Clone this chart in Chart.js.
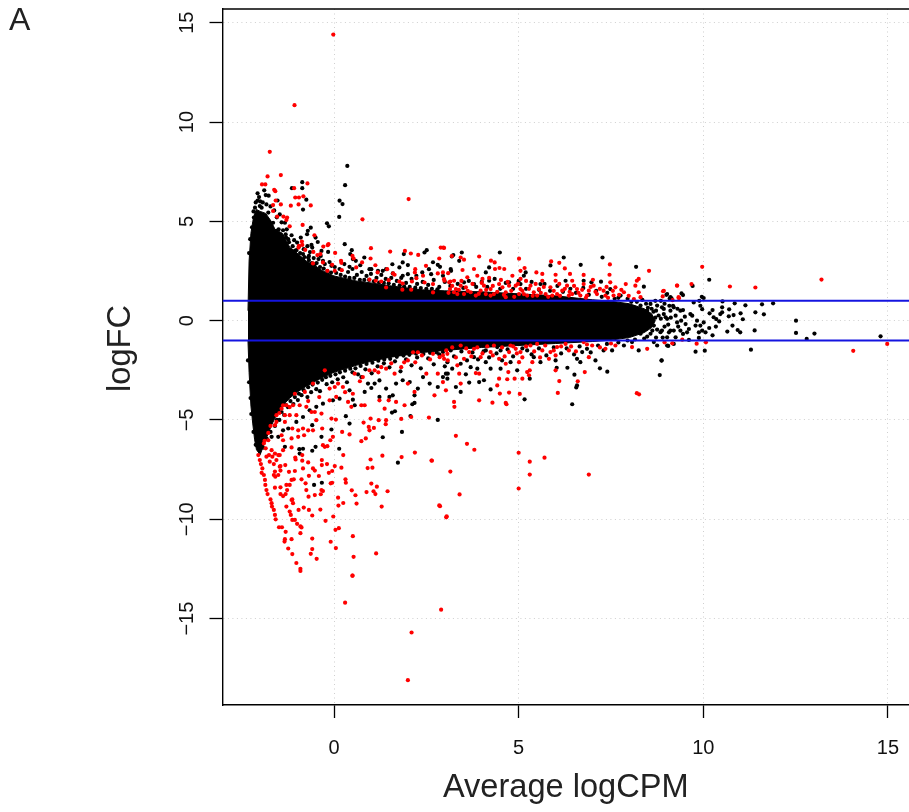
<!DOCTYPE html>
<html>
<head>
<meta charset="utf-8">
<title>MA plot</title>
<script src="https://cdn.jsdelivr.net/npm/chart.js@4.4.0/dist/chart.umd.min.js"></script>
<style>
  html, body { margin: 0; padding: 0; background: #fff; overflow: hidden; }
  canvas { display: block; }
</style>
</head>
<body>
<canvas id="plot" width="909" height="812"></canvas>
<script>
// values, [average logCPM, logFC]
const xTickValues = [0, 5, 10, 15];
const yTickValues = [-15, -10, -5, 0, 5, 10, 15];
const cutoffs = [1, -1];
const xRange = [-3.02, 15.57];

// the solid black mass can't be read dot by dot, so it is read as an envelope
const coreX     = [-2.33, -2.3, -2.25, -2.2, -2.15, -2.1, -2.0, -1.85, -1.7, -1.6, -1.4, -1.2, -1.0, -0.75, -0.5, -0.3, 0, 0.6, 1, 1.5, 2.4, 3, 4, 5, 6, 7, 7.5, 8, 8.4, 8.6, 8.7];
const coreUpper = [0.5, 3.0, 4.4, 5.0, 5.4, 5.6, 5.5, 5.4, 5.0, 4.6, 4.4, 3.7, 3.4, 3.0, 2.75, 2.5, 2.25, 2.0, 1.9, 1.76, 1.55, 1.5, 1.45, 1.35, 1.25, 1.05, 0.98, 0.85, 0.6, 0.35, 0];
const coreLower = [-1.0, -2.6, -4.3, -5.2, -6.0, -6.5, -6.75, -6.0, -5.3, -4.9, -4.3, -3.9, -3.6, -3.3, -3.05, -2.85, -2.6, -2.25, -2.05, -1.85, -1.6, -1.5, -1.35, -1.25, -1.15, -1.05, -0.98, -0.85, -0.6, -0.35, 0];

const blackPoints = [
  [0.36,7.79],[0.3,6.82],[0.15,6.04],[0.23,5.87],[0.14,5.22],[-0.86,6.97],[-0.86,6.67],[-1.14,6.67],[-1.89,6.56],[-1.85,6.32],[-1.77,6.29],
  [-2.07,6.41],[-2.03,6.22],[-2.07,6.05],[-1.53,6.05],[-0.75,6.09],[-0.84,5.59],[-0.19,4.9],[-0.14,4.75],[-0.63,4.68],[-0.71,4.52],[-0.73,4.35],
  [-0.5,4.18],[-0.44,3.96],[-0.9,4.18],[-1.0,3.93],[-0.61,3.81],[-0.59,3.68],[0.29,3.85],[0.48,3.55],[0.44,3.35],[-0.16,3.46],[-0.34,3.51],
  [-0.36,3.26],[-0.68,3.26],[0.82,3.18],[0.59,3.01],[0.51,3.1],[0.71,2.79],[0.42,2.71],[2.45,3.43],[2.51,3.55],[1.89,3.35],[1.86,2.93],[2.0,2.8],
  [2.68,2.94],[2.81,2.81],[2.87,2.71],[1.58,2.84],[1.41,2.59],[1.32,2.51],[1.19,2.51],[0.96,2.59],[1.01,2.59],[2.39,2.43],[2.57,2.59],[1.77,2.68],
  [1.59,2.38],[2.0,2.34],[1.86,2.26],[2.23,2.26],[2.63,2.34],[2.95,2.26],[3.17,2.51],
  [-2.14,5.69],[-2.01,5.77],[-1.83,5.85],[-1.96,5.69],[-2.12,5.22],[-2.01,5.19],[-1.78,5.44],[-1.65,4.93],[-1.47,5.35],[-1.33,4.93],[-1.56,4.52],
  [-1.31,4.35],[-1.24,4.1],[-1.06,3.51],[-0.84,3.35],[-0.7,3.18],[-0.52,2.84],[-0.3,3.01],[-0.07,2.76],[-2.19,4.35],[-2.1,4.38],[-2.17,5.19],
  [4.49,3.43],[6.22,3.18],[7.27,3.18],[8.18,2.71],[6.68,2.81],[5.86,2.78],[3.46,3.43],[3.23,3.3],[3.19,3.23],[3.39,3.01],[4.2,2.68],[4.11,2.43],
  [5.19,2.43],[5.14,2.26],[3.16,2.6],[7.23,1.96],[6.97,1.93],[7.48,1.59],[8.39,1.71],[9.02,1.34],[9.11,1.18],[3.52,1.93],[3.79,1.84],[4.2,2.01],
  [4.74,1.93],[5.05,1.84],[5.59,1.84],[6.27,2.01],[6.76,2.01],[7.76,1.26],
  [6.45,-4.21],[5.16,-3.96],[8.82,-2.74],[8.87,-2.0],[7.4,-2.57],[7.2,-2.4],[7.08,-2.0],[6.51,-2.72],[6.58,-3.26],[6.56,-3.36],[6.32,-2.37],[6.03,-2.37],
  [4.96,-2.5],[5.3,-2.92],[4.51,-2.42],[4.24,-3.46],[4.06,-3.0],[3.93,-3.09],[3.66,-3.12],[3.43,-3.59],[3.3,-3.34],[3.03,-2.67],[3.07,-2.92],[3.2,-2.42],
  [3.57,-2.7],[4.11,-2.09],[4.24,-2.42],[3.88,-2.42],[3.7,-2.34],[4.78,-2.09],[5.41,-1.84],[5.59,-2.09],[6.0,-2.0],[6.58,-1.92],[6.72,-1.58],[6.85,-1.42],
  [6.67,-2.09],[7.85,-1.25],[8.07,-1.08],[7.39,-1.17],[7.53,-1.5],[8.25,-1.5],[8.75,-1.25],[9.02,-1.25],[9.2,-1.17],[8.66,-1.08],[3.43,-2.17],[3.07,-2.09],
  [3.3,-1.33],[3.16,-1.5],[3.79,-1.84],[4.11,-1.5],[4.42,-1.33],[4.51,-1.5],[5.01,-1.17],[5.23,-1.5],
  [-0.54,-8.27],[-0.33,-8.16],[1.73,-7.15],[0.14,-6.45],[-0.94,-6.47],[-0.84,-6.45],[-0.93,-6.69],[-0.59,-6.55],[-0.5,-6.35],[-0.34,-5.85],[-0.07,-5.48],
  [-0.59,-5.26],[2.81,-5.0],[1.84,-5.6],[1.32,-5.87],[2.07,-4.8],[1.57,-4.63],[1.65,-4.56],[0.32,-4.81],[0.42,-5.18],[2.18,-4.14],[2.12,-4.21],
  [0.56,-4.26],[0.51,-3.98],[0.83,-3.59],[1.01,-3.39],[1.1,-3.17],[1.23,-3.01],[1.41,-3.42],[1.59,-3.76],[1.86,-3.0],[2.05,-3.09],[2.18,-3.76],[2.27,-3.42],
  [2.41,-2.84],[2.59,-3.17],[2.81,-3.34],[2.95,-2.84],[3.08,-2.67],[1.68,-3.17],[1.23,-3.84],[1.5,-3.84],[0.74,-2.84],[0.92,-3.17],[0.42,-3.51],[0.15,-3.93],
  [-0.03,-4.01],[-0.3,-4.18],[-0.48,-4.34],[-0.66,-4.51],[-0.84,-4.85],[-1.02,-5.1],[-1.24,-5.43],[-1.38,-5.52],[-1.33,-6.35],[-1.51,-5.85],[-1.69,-5.85],
  [10.16,2.06],[9.71,1.75],[9.41,1.37],[9.45,1.29],[9.0,1.3],[9.09,1.12],[9.14,1.12],[9.96,1.2],[10.01,1.14],[9.74,0.92],[9.89,1.0],[10.52,0.97],[10.85,0.87],
  [11.14,0.77],[11.59,0.82],[11.89,0.87],[11.41,0.42],[11.64,0.32],[11.01,0.37],[11.07,0.07],[10.7,0.57],[10.82,0.28],[10.69,0.22],[10.51,0.67],[10.51,0.42],
  [10.46,0.33],[10.25,0.53],[10.17,0.37],[10.28,0.17],[10.35,0.08],[10.43,-0.04],[10.34,-0.3],[10.25,-0.74],[10.65,-0.55],[10.79,-0.25],[10.93,-0.47],[11.0,-0.59],
  [11.39,-0.49],[12.51,0.0],[12.51,-0.62],[12.8,-0.92],[13.01,-0.65],[14.8,-0.79],[11.29,-1.46],[10.04,-1.51],[9.79,-1.56],[9.05,-1.27],[8.87,-2.01],
  [9.65,0.33],[9.7,0.25],[9.83,0.0],[9.92,0.75],[9.97,0.58],[10.01,-0.09],[9.92,-0.25],[9.79,-0.25],[9.88,-0.59],[9.97,-0.5],[10.06,-0.59],[10.16,-0.37],[9.61,-0.42],
  [9.56,-0.59],[9.52,-0.17],[9.4,0.0],[9.38,0.5],[9.45,0.53],[9.25,0.25],[9.29,-0.09],[9.18,0.75],[9.2,-0.5],[9.38,-0.5],[9.45,-0.67],[9.61,-0.97],[9.88,-0.87],
  [9.25,-0.84],[9.02,-0.84],[9.07,-0.59],[8.88,-0.5],[8.98,0.17],[8.93,0.33],[9.11,0.5],[8.88,0.67],
  [8.12,0.67],[8.3,0.76],[8.48,0.51],[8.39,0.17],[8.21,-0.16],[8.07,-0.5],[8.57,0.84],[8.75,0.76],[8.93,0.59],[8.79,0.26],[8.66,-0.25],[8.84,-0.58],[9.11,-0.5],
  [9.02,0.09],[9.2,0.67],[8.57,-0.66],[8.3,-0.66]
];

// fuzz round the solid mass, estimated from the density in the crops
const blackFringe = [
  [-2.3,3.4],[-2.27,4.1],[-2.22,4.7],[-2.18,5.5],[-2.12,5.95],[-2.0,6.0],[-1.93,5.95],[-1.72,5.75],[-1.62,5.55],[-1.55,5.2],[-1.42,4.95],[-1.28,4.6],[-1.15,4.3],[-1.08,4.05],[-0.95,3.75],
  [-0.82,3.6],[-0.72,3.75],[-0.65,3.45],[-0.55,3.15],[-0.42,3.1],[-0.25,2.85],[-0.12,2.95],[0.02,2.7],[0.15,2.6],[0.28,2.85],[0.38,2.45],[0.5,2.6],[0.62,2.3],[0.75,2.45],[0.88,2.25],[1.0,2.35],[1.15,2.15],
  [1.28,2.3],[1.4,2.1],[1.55,2.15],[1.7,2.0],[1.82,2.15],[1.95,1.9],[2.1,2.1],[2.25,1.85],[2.4,1.95],[2.55,1.8],[2.7,2.05],[2.85,1.7],[3.0,1.95],[3.15,1.75],[3.35,1.85],[3.5,1.65],
  [3.65,2.0],[3.85,1.7],[4.0,1.95],[4.15,1.7],[4.35,2.1],[4.5,1.6],[4.65,1.9],[4.85,1.6],[5.0,2.0],[5.2,1.6],[5.35,1.95],[5.55,1.55],[5.7,1.85],[5.85,1.5],[6.05,1.75],[6.2,1.45],[6.4,1.6],[6.55,1.4],
  [6.75,1.65],[6.9,1.3],[7.1,1.5],[7.25,1.2],[7.4,1.4],[7.6,1.1],[7.7,1.15],[7.95,1.1],[8.05,0.95],[8.2,0.95],[8.35,1.05],[8.5,0.65],[8.65,0.45],[8.15,0.35],[8.3,0.4],[8.45,-0.4],[8.55,-0.15],
  [-2.33,-2.0],[-2.3,-3.1],[-2.26,-3.9],[-2.24,-4.7],[-2.18,-5.6],[-2.12,-6.25],[-1.92,-6.4],[-1.82,-5.95],[-1.72,-5.6],[-1.6,-5.3],[-1.48,-5.0],[-1.35,-4.75],[-1.25,-4.35],[-1.1,-4.2],[-0.98,-4.0],
  [-0.88,-3.75],[-0.72,-3.85],[-0.62,-3.6],[-0.48,-3.45],[-0.38,-3.55],[-0.2,-3.2],[-0.05,-3.1],[0.1,-2.95],[0.25,-2.85],[0.35,-3.1],[0.5,-2.6],[0.65,-2.7],[0.85,-2.45],[1.02,-2.65],[1.18,-2.3],[1.35,-2.15],
  [1.5,-2.35],[1.65,-2.05],[1.8,-2.55],[1.95,-1.95],[2.1,-2.25],[2.25,-1.85],[2.35,-2.4],[2.55,-1.9],[2.7,-2.2],[2.85,-1.7],[3.0,-2.3],[3.25,-1.8],[3.45,-1.55],[3.6,-2.0],[3.75,-1.6],[3.9,-1.95],[4.05,-1.55],
  [4.2,-1.85],[4.4,-1.65],[4.55,-2.0],[4.7,-1.45],[4.85,-1.8],[5.1,-1.4],[5.35,-1.7],[5.55,-1.4],[5.75,-1.75],[5.95,-1.35],[6.15,-1.65],[6.3,-1.4],[6.5,-1.7],[6.65,-1.3],[6.95,-1.6],[7.15,-1.25],[7.3,-1.5],[7.7,-1.1],[7.95,-1.0],[8.15,-0.95],[8.4,-0.9],
  // second pass, right against the envelope
  [-1.5,4.6],[-1.38,4.55],[-1.3,4.2],[-1.22,3.95],[-1.12,3.75],[-1.02,3.55],[-0.92,3.4],[-0.8,3.2],[-0.68,3.05],[-0.6,2.9],[-0.47,2.9],[-0.38,2.7],[-0.28,2.62],[-0.18,2.5],[-0.08,2.42],[0.06,2.4],[0.18,2.3],
  [0.3,2.22],[0.42,2.15],[0.55,2.15],[0.7,2.06],[0.82,2.05],[0.95,2.05],[1.08,1.98],[1.22,1.92],[1.35,1.9],[1.48,1.88],[1.62,1.8],[1.78,1.78],[1.9,1.72],[2.05,1.7],[2.2,1.66],[2.35,1.64],[2.5,1.6],[2.65,1.6],[2.8,1.58],
  [-1.55,-5.0],[-1.42,-4.6],[-1.3,-4.25],[-1.18,-4.05],[-1.06,-3.85],[-0.95,-3.68],[-0.82,-3.5],[-0.7,-3.35],[-0.58,-3.22],[-0.44,-3.12],[-0.32,-2.98],[-0.22,-2.85],[-0.1,-2.78],[0.04,-2.7],[0.16,-2.6],[0.3,-2.52],[0.44,-2.42],
  [0.58,-2.4],[0.72,-2.28],[0.88,-2.18],[1.04,-2.12],[1.2,-2.02],[1.36,-1.95],[1.52,-1.92],[1.7,-1.82],[1.88,-1.76],[2.04,-1.72],[2.22,-1.66],[2.42,-1.68],[2.6,-1.62],[2.78,-1.6],[2.95,-1.58],
  // thin end of the cloud
  [8.45,0.85],[8.6,0.6],[8.72,0.5],[8.7,0.15],[8.85,0.1],[8.62,-0.5],[8.75,-0.45],[8.48,-0.8],[8.72,-0.85],[8.9,-0.85],[8.95,-0.3],[9.05,-0.2],[9.12,0.15],[8.95,0.85],[9.08,0.75],[8.7,1.0],[8.85,1.0],[9.3,0.6],[9.32,-0.3],[9.5,0.2]
];

const redPoints = [
  [-0.02,14.4],[-1.07,10.85],[-1.74,8.5],[-1.8,7.26],[-1.44,7.33],[-1.95,6.86],[-1.86,6.86],[-0.72,6.91],[-1.08,6.67],[-1.62,6.59],[-1.59,6.52],
  [-1.05,6.2],[-0.95,6.2],[-0.83,6.26],[-1.58,6.05],[-1.65,5.82],[-1.44,5.85],[-1.17,5.79],[-0.96,5.85],[-0.63,5.8],[-1.65,5.52],[-1.54,5.24],[-1.37,5.24],
  [-1.27,5.19],[-1.29,5.07],[-1.2,4.75],[-0.85,4.82],[2.02,6.12],[0.77,5.1],[-0.53,4.3],[-0.87,3.98],[-0.95,3.76],[-0.96,3.68],[-0.86,3.81],[-0.78,3.56],
  [-0.29,3.73],[-0.17,3.8],[-0.15,3.85],[-0.56,3.46],[-0.45,3.3],[-0.37,3.35],[0.03,3.41],[1.0,3.65],[0.99,3.13],[1.92,3.51],[2.08,3.38],[2.28,3.31],[1.52,3.48],
  [2.89,3.68],[2.98,3.66],[2.85,3.13],[3.19,3.25],[0.19,3.01],[0.2,2.91],[0.5,3.26],[0.53,3.13],[0.6,2.68],[0.76,2.93],[1.12,2.79],[1.44,2.59],[1.18,2.43],[1.6,2.38],
  [1.64,2.31],[2.2,2.59],[2.19,2.43],[2.49,2.76],[2.81,2.38],[3.09,2.39],[2.95,2.43],[0.02,2.51],[-0.18,2.51],[0.21,2.54],[-0.05,2.81],[-0.3,2.93],[-0.57,2.88],
  [0.96,2.07],[1.13,2.01],[1.28,1.97],[1.48,2.04],[1.77,1.97],[1.86,1.87],[2.11,1.97],[2.23,2.14],[2.41,2.26],[2.45,1.92],[2.68,1.84],[2.99,2.01],[3.15,1.97],
  [1.41,1.67],[1.85,1.56],[2.09,1.56],[2.68,1.42],[3.14,1.59],
  [2.96,3.68],[5.01,3.12],[3.93,3.23],[3.43,3.18],[3.52,3.07],[5.88,2.98],[6.1,2.91],[6.25,2.63],[7.47,2.83],[7.46,2.31],[8.53,2.51],[4.25,3.02],[4.35,2.93],
  [4.36,2.6],[4.48,2.65],[4.61,2.6],[3.79,2.6],[3.48,2.55],[5.16,2.65],[5.05,2.51],[5.48,2.43],[5.64,2.35],[6.0,2.31],[6.39,2.35],[6.76,2.3],[7.01,2.06],
  [8.25,2.1],[8.2,2.01],[7.9,1.84],[8.16,1.76],[9.29,1.76],[8.91,1.48],[9.33,1.18],
  [3.25,2.01],[3.12,1.93],[2.98,2.09],[3.43,1.76],[3.25,1.43],[3.34,1.34],[3.57,1.68],[3.61,2.18],[3.88,2.26],[4.02,2.1],[4.06,1.76],[3.97,1.51],[4.24,1.59],[4.33,1.34],
  [4.47,1.84],[4.56,1.68],[4.65,1.43],[4.83,2.26],[4.92,1.76],[5.05,2.1],[5.05,1.59],[5.14,1.34],[5.32,1.76],[5.41,1.43],[5.55,1.59],[5.64,2.01],[5.73,1.34],[5.86,1.68],
  [6.0,2.01],[6.04,1.34],[6.18,1.51],[6.31,1.76],[6.45,2.01],[6.45,1.34],[6.58,1.59],[6.67,1.26],[6.76,1.84],[6.9,1.51],[7.03,1.76],[7.12,1.34],[7.3,1.51],[7.48,1.93],
  [7.62,1.68],[7.57,1.26],[7.85,1.43],[8.25,1.43],[8.3,1.18],[8.12,1.09],[3.7,1.43],[3.84,1.26],[4.11,1.34],[4.74,1.76],[5.01,1.34],[5.23,1.26],[5.5,1.26],[5.91,1.26],
  [6.36,1.26],[6.85,1.26],[7.35,1.26],[4.24,1.26],[4.65,1.18],[3.3,1.59],[3.52,1.34],
  [3.43,-1.25],[3.66,-1.58],[3.52,-1.92],[3.07,-1.67],[2.98,-1.92],[3.79,-1.42],[3.97,-1.84],[4.24,-1.58],[4.47,-1.92],[4.78,-1.25],[4.92,-1.42],[5.05,-1.58],[4.74,-1.58],
  [5.01,-2.09],[5.32,-1.25],[5.5,-1.17],[5.64,-1.5],[5.86,-1.58],[6.04,-1.33],[6.27,-1.17],[6.36,-1.5],[6.76,-1.08],[6.9,-1.84],[6.99,-1.25],[7.35,-1.42],[7.62,-1.25],
  [8.07,-1.33],[8.48,-1.42],[5.37,-2.09],[5.82,-1.92],[6.0,-1.75],[4.65,-2.17],[4.33,-1.25],[3.84,-2.64],[3.93,-2.67],[3.39,-2.67],[3.43,-3.17],[3.03,-3.51],[3.34,-2.25],
  [4.47,-2.92],[4.42,-3.26],[4.49,-3.67],[4.69,-2.95],[4.72,-2.59],[4.74,-3.62],[4.89,-2.92],[5.1,-2.92],[5.23,-2.59],[5.28,-2.75],[5.3,-2.5],[6.0,-2.5],[6.1,-3.04],
  [6.06,-3.64],[5.03,-3.69],[6.79,-2.59],[6.6,-3.05],[8.26,-3.71],[3.93,-4.01],[4.29,-4.13],[4.65,-4.14],[4.67,-4.21],[3.25,-4.09],[3.26,-4.34],
  [9.97,2.71],[9.29,1.77],[9.68,1.84],[10.72,1.72],[11.41,1.67],[13.2,2.07],[8.93,1.5],[8.9,1.22],[9.34,1.13],[9.17,1.03],[14.06,-1.52],[14.98,-1.17],[9.82,-1.16],[9.16,-1.14],
  [9.43,-0.96],[10.07,-1.09],[8.95,-1.09],
  [-2.05,-6.77],[-2.01,-7.02],[-1.98,-7.22],[-1.94,-7.44],[-1.96,-7.66],[-1.9,-7.77],[-1.87,-8.02],[-1.86,-8.27],[-1.83,-8.53],[-1.8,-8.73],[-1.72,-9.0],[-1.69,-9.19],[-1.68,-9.36],
  [-1.63,-9.53],[-1.6,-9.78],[-1.58,-10.0],[-1.49,-10.4],[-1.41,-10.4],[-1.31,-10.63],[-1.33,-11.0],[-1.34,-11.12],[-1.15,-11.0],[-1.24,-11.47],[-1.13,-11.75],[-1.02,-12.2],
  [-0.91,-12.49],[-0.91,-12.6],[-0.59,-10.97],[-0.59,-11.5],[-0.63,-11.74],[-0.47,-11.99],[-0.09,-11.13],[0.05,-11.45],[0.04,-10.53],[0.13,-10.45],[0.51,-10.85],[0.53,-11.89],
  [1.14,-11.72],[0.5,-12.84],[3.04,-9.9],[2.87,-9.34],[2.19,-6.64],[2.64,-7.04],[1.83,-6.87],[1.31,-6.8],[0.99,-6.99],[0.91,-7.42],[1.04,-7.4],[1.01,-8.2],[1.16,-8.36],[0.88,-8.63],
  [1.07,-8.59],[1.12,-8.73],[1.45,-8.59],[1.29,-9.36],[0.61,-9.21],[0.48,-8.54],[0.58,-8.79],[0.31,-7.99],[0.32,-8.16],[0.2,-7.4],[0.25,-6.77],[0.11,-8.91],[0.12,-9.31],[0.25,-9.18],
  [-0.02,-9.86],[-0.23,-10.08],[-0.37,-9.51],[-0.59,-9.81],[-0.68,-9.53],[-0.82,-9.41],[-0.96,-9.53],[-0.91,-10.36],[-0.88,-10.41],[-0.91,-10.7],[-1.0,-10.23],[-1.06,-10.03],
  [-1.17,-9.78],[-1.2,-9.61],[-1.29,-9.36],[-1.13,-10.03],[-1.11,-9.19],[-1.13,-9.0],[-1.15,-9.03],[-0.34,-8.53],[-0.3,-8.58],[-0.36,-8.74],[-0.52,-8.78],[-0.69,-8.86],[-0.75,-8.53],
  [-0.77,-8.19],[-1.29,-8.27],[-1.2,-8.27],[-1.45,-8.39],[-1.27,-8.53],[-1.45,-8.73],[-1.38,-8.83],[-1.31,-8.73],[-1.15,-8.02],[-1.09,-7.99],[-1.6,-8.41],[-1.63,-7.77],[-1.59,-7.86],
  [-1.51,-7.77],[-1.47,-7.35],[-1.45,-7.55],[-1.32,-7.27],[-1.22,-7.61],[-1.06,-7.57],[-0.84,-7.44],[-0.88,-7.99],[-0.68,-7.81],[-0.57,-7.44],[-0.52,-7.55],[-0.41,-7.82],[-0.33,-7.02],
  [-0.33,-7.27],[-0.19,-7.22],[-0.14,-7.66],[-0.05,-7.57],[0.02,-7.32],[-0.09,-8.19],[-0.05,-8.16],[-1.05,-6.89],[-1.04,-6.99],[-0.86,-7.05],[-0.7,-7.14],[-0.86,-6.77],
  [-1.9,-6.18],[-1.78,-6.02],[-1.85,-6.43],[-1.69,-6.52],[-1.6,-6.69],[-1.76,-6.77],[-1.67,-6.85],[-1.51,-6.77],[-1.83,-6.85],[-1.74,-7.1],[-1.63,-7.22],[-1.56,-7.02],[-1.45,-7.32],
  [-1.6,-7.6],[-1.38,-6.52],[-1.47,-6.77],[-1.15,-6.38],[-1.38,-6.02],[-1.42,-5.77],[-1.15,-5.93],[-0.97,-5.85],[-0.81,-5.77],[-0.57,-5.52],[-0.7,-5.52],[-0.84,-5.43],[-0.97,-5.52],
  [-1.13,-5.43],[-0.3,-6.27],[-0.25,-6.35],[-0.18,-6.32],[-0.03,-5.85],[-0.32,-5.43],[-0.48,-5.01],[-0.1,-6.02],[-0.07,-4.93],[0.05,-4.98],[0.22,-5.6],[0.42,-5.73],[0.74,-6.07],[0.86,-5.93],
  [0.99,-4.93],[0.8,-5.13],[0.94,-5.35],[0.96,-5.52],[1.08,-5.4],[1.21,-5.01],[1.41,-5.01],[1.4,-5.21],[1.82,-4.95],[2.09,-4.85],[2.57,-4.88],
  [-1.56,-4.76],[-1.42,-4.43],[-1.29,-4.26],[-1.38,-4.26],[-1.11,-4.26],[-0.93,-4.26],[-1.33,-5.1],[-1.56,-5.1],[-1.6,-5.26],[-1.33,-4.76],[-1.2,-4.76],[-1.02,-4.76],[-0.61,-4.6],[-0.75,-4.34],
  [-0.52,-4.6],[-0.34,-4.68],[-0.12,-4.01],[0.06,-3.84],[0.38,-4.09],[0.47,-4.34],[0.74,-4.26],[0.83,-4.26],[1.37,-4.43],[1.23,-4.01],[1.48,-4.01],[1.68,-4.09],[1.91,-4.26],[2.18,-3.59],[2.0,-3.17],[2.72,-3.76],
  [-1.06,-3.68],[-0.79,-3.59],[-0.57,-3.17],[-0.25,-2.5],[-0.12,-3.42],[0.02,-3.34],[0.11,-3.17],[0.24,-3.34],[0.51,-3.68],[0.56,-2.67],[0.78,-2.84],[0.96,-2.5],[1.1,-2.5],[1.28,-2.34],[1.41,-2.42],
  [1.64,-2.67],[1.82,-2.34],[2.0,-2.0],[2.14,-1.59],[2.27,-1.59],[2.5,-2.67],[2.68,-1.67],[2.86,-1.84],[2.95,-1.75],[3.04,-1.5],[3.08,-2.0],[2.95,-3.09],[2.81,-2.67],
  // far lower part of the plot
  [0.3,-14.2],[2.1,-15.7],[2.9,-14.55],[2.0,-18.1],[0.5,-12.84],[3.4,-8.75],[3.15,-7.6],[2.85,-9.3],[3.05,-9.85],[2.65,-7.05],[3.6,-6.2],[3.8,-6.5],[3.3,-5.8],[5.0,-6.65],[5.3,-7.1],[5.0,-8.45],
  [5.3,-7.75],[5.7,-6.9],[6.9,-7.75],[8.2,-3.65],
  // more of the red band hugging the cutoffs
  [3.1,1.4],[3.2,1.75],[3.38,1.55],[3.45,2.0],[3.62,1.5],[3.75,1.85],[3.92,1.35],[4.0,1.9],[4.12,1.55],[4.2,2.15],[4.3,1.75],[4.42,1.45],[4.52,2.05],[4.6,1.3],[4.7,1.95],[4.8,1.5],[4.88,1.2],[4.98,1.85],
  [5.1,1.5],[5.2,2.0],[5.28,1.6],[5.38,1.25],[5.46,1.85],[5.6,1.4],[5.68,1.7],[5.8,1.2],[5.95,1.5],[6.1,1.85],[6.12,1.25],[6.25,1.6],[6.38,1.45],[6.5,1.75],[6.62,1.4],[6.72,1.55],[6.82,1.15],[6.95,1.7],
  [7.08,1.45],[7.2,1.6],[7.38,1.7],[7.42,1.15],[7.55,1.5],[7.72,1.3],[7.78,1.55],[7.98,1.25],[3.2,-1.35],[3.3,-1.85],[3.58,-1.4],[3.72,-1.8],[3.88,-1.35],[4.02,-1.65],[4.15,-1.3],[4.3,-1.75],[4.55,-1.35],
  [4.62,-1.8],[4.85,-1.3],[4.95,-1.65],[5.1,-1.85],[5.2,-1.3],[5.42,-1.55],[5.58,-1.85],[5.72,-1.25],[5.95,-1.5],[6.15,-1.3],[6.42,-1.3],[6.55,-1.55],[6.85,-1.2],[7.2,-1.35],[7.5,-1.15],[1.9,-2.1],[2.2,-2.1],[2.38,-1.75],[2.6,-1.95],
  [1.55,-2.15],[1.2,-2.6],[0.7,-3.05],[0.3,-3.6],[-0.4,-3.85],[-0.7,-4.05],[-1.2,-4.35],[-1.48,-4.65],[-1.72,-5.3],[-1.78,-5.65],[-1.88,-6.05]
];

const toXY = pts => pts.map(p => ({ x: p[0], y: p[1] }));

const panelText = {
  id: 'panelText',
  afterDraw(chart) {
    const { ctx, chartArea: a } = chart;
    ctx.save();
    // R's box() keeps a top edge, the right one is off the page
    ctx.strokeStyle = '#000';
    ctx.lineWidth = 1.4;
    ctx.beginPath();
    ctx.moveTo(a.left, a.top);
    ctx.lineTo(a.right, a.top);
    ctx.stroke();
    ctx.fillStyle = '#222';
    ctx.font = '32px "Liberation Sans"';
    ctx.textBaseline = 'alphabetic';
    ctx.fillText('A', 9, 30);
    ctx.translate(130, 348.5);
    ctx.rotate(-Math.PI / 2);
    ctx.textAlign = 'center';
    ctx.font = '32.6px "Liberation Sans"';
    ctx.fillText('logFC', 0, 0);
    ctx.restore();
  }
};

// chart.js pads the area for overhanging tick labels, the plot box has fixed edges here
const noOverhang = s => { s.paddingLeft = s.paddingRight = s.paddingTop = s.paddingBottom = 0; };

new Chart(document.getElementById('plot'), {
  type: 'scatter',
  data: {
    datasets: [
      ...cutoffs.map(c => ({
        type: 'line', label: 'cutoff ' + c, order: 0,
        data: toXY(xRange.map(x => [x, c])),
        borderColor: '#1414e0', borderWidth: 2, pointRadius: 0, fill: false
      })),
      { label: 'DE genes', order: 1, data: toXY(redPoints), backgroundColor: '#ff0000', pointRadius: 2.1, pointBorderWidth: 0 },
      { label: 'other genes', order: 2, data: toXY(blackPoints.concat(blackFringe)), backgroundColor: '#000', pointRadius: 2.1, pointBorderWidth: 0 },
      {
        type: 'line', label: 'core upper', order: 3,
        data: coreX.map((x, i) => ({ x, y: coreUpper[i] })),
        borderColor: '#000', borderWidth: 1, backgroundColor: '#000', pointRadius: 0, fill: '+1'
      },
      {
        type: 'line', label: 'core lower', order: 4,
        data: coreX.map((x, i) => ({ x, y: coreLower[i] })),
        borderColor: '#000', borderWidth: 1, pointRadius: 0, fill: false
      }
    ]
  },
  options: {
    animation: false,
    responsive: false,
    layout: { autoPadding: false, padding: { top: 9, left: 0, right: 0, bottom: 0 } },
    plugins: { legend: { display: false }, tooltip: { enabled: false } },
    scales: {
      x: {
        type: 'linear', min: xRange[0], max: xRange[1],
        afterBuildTicks: s => { s.ticks = xTickValues.map(value => ({ value })); },
        afterFit: s => { s.height = 107; noOverhang(s); },
        grid: { color: '#cfcfcf', tickColor: '#000', tickLength: 13, tickWidth: 1.3, lineWidth: 1 },
        border: { color: '#000', width: 1.4, dash: [1, 3.5] },
        ticks: { autoSkip: false, maxRotation: 0, color: '#111', padding: 18, font: { family: '"Liberation Sans"', size: 20 } },
        title: { display: true, text: 'Average logCPM', color: '#222', padding: { top: 0, bottom: 4 }, font: { family: '"Liberation Sans"', size: 32.6 } }
      },
      y: {
        type: 'linear', min: -19.35, max: 15.69,
        afterBuildTicks: s => { s.ticks = yTickValues.map(value => ({ value })); },
        afterFit: s => { s.width = 222.5; noOverhang(s); },
        grid: { color: '#cfcfcf', tickColor: '#000', tickLength: 13, tickWidth: 1.3, lineWidth: 1 },
        border: { color: '#000', width: 1.4, dash: [1, 3.5] },
        ticks: {
          autoSkip: false, minRotation: 90, maxRotation: 90, crossAlign: 'center', padding: 5, color: '#111',
          font: { family: '"Liberation Sans"', size: 20 },
          callback: v => String(v).replace('-', '\u2212')
        }
      }
    }
  },
  plugins: [panelText]
});
</script>
</body>
</html>
